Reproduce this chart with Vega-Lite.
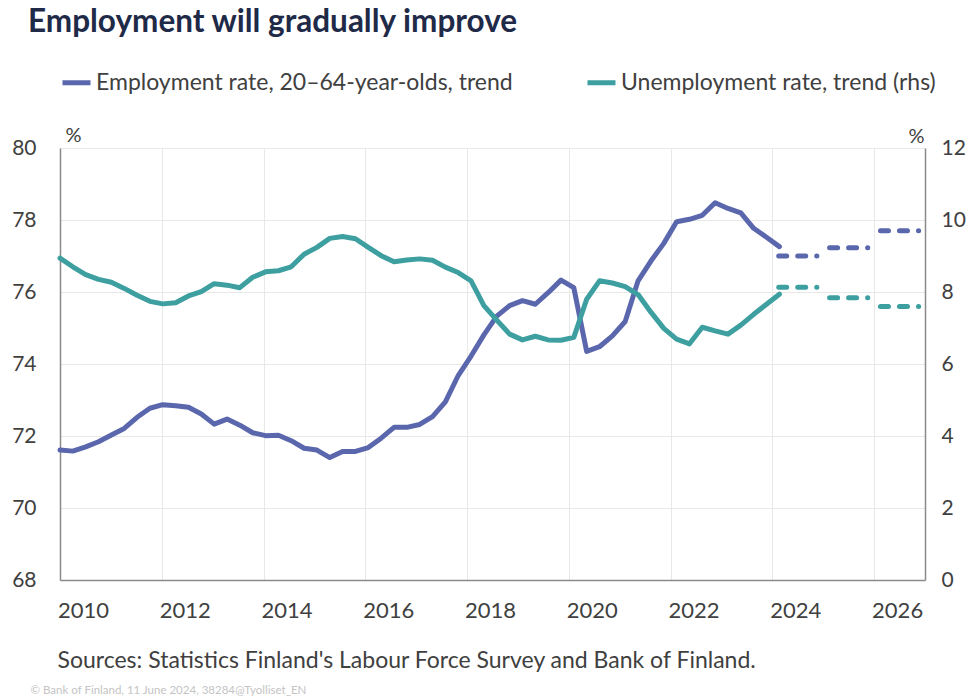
{
  "$schema": "https://vega.github.io/schema/vega-lite/v6.json",
  "width": 865,
  "height": 432,
  "autosize": "none",
  "padding": {"left": 60, "top": 148, "right": 53, "bottom": 117},
  "background": "white",
  "config": {
    "font": "Lato",
    "view": {"stroke": null},
    "axis": {"labelColor": "#404040", "titleColor": "#404040", "labelFont": "Lato", "titleFont": "Lato"},
    "legend": {"labelFont": "Lato"}
  },
  "title": {
    "text": "Employment will gradually improve",
    "anchor": "start",
    "frame": "group",
    "dx": -32,
    "offset": 28,
    "fontSize": 31.5,
    "fontWeight": "bold",
    "color": "#1F2A48",
    "font": "Lato"
  },
  "datasets": {
    "hist": [
      {"t": 2010.000, "emp": 71.61, "unemp": 8.94},
      {"t": 2010.252, "emp": 71.58, "unemp": 8.70},
      {"t": 2010.505, "emp": 71.70, "unemp": 8.48},
      {"t": 2010.757, "emp": 71.84, "unemp": 8.35},
      {"t": 2011.010, "emp": 72.03, "unemp": 8.27},
      {"t": 2011.262, "emp": 72.21, "unemp": 8.10},
      {"t": 2011.515, "emp": 72.52, "unemp": 7.91},
      {"t": 2011.767, "emp": 72.77, "unemp": 7.74},
      {"t": 2012.020, "emp": 72.87, "unemp": 7.67},
      {"t": 2012.272, "emp": 72.84, "unemp": 7.70},
      {"t": 2012.525, "emp": 72.80, "unemp": 7.89},
      {"t": 2012.777, "emp": 72.61, "unemp": 8.01},
      {"t": 2013.030, "emp": 72.33, "unemp": 8.23},
      {"t": 2013.282, "emp": 72.47, "unemp": 8.19},
      {"t": 2013.534, "emp": 72.30, "unemp": 8.12},
      {"t": 2013.787, "emp": 72.09, "unemp": 8.41},
      {"t": 2014.039, "emp": 72.01, "unemp": 8.56},
      {"t": 2014.292, "emp": 72.02, "unemp": 8.59},
      {"t": 2014.544, "emp": 71.87, "unemp": 8.70},
      {"t": 2014.797, "emp": 71.66, "unemp": 9.05},
      {"t": 2015.049, "emp": 71.61, "unemp": 9.24},
      {"t": 2015.302, "emp": 71.40, "unemp": 9.49},
      {"t": 2015.554, "emp": 71.57, "unemp": 9.54},
      {"t": 2015.807, "emp": 71.57, "unemp": 9.48},
      {"t": 2016.059, "emp": 71.68, "unemp": 9.24},
      {"t": 2016.312, "emp": 71.94, "unemp": 9.01},
      {"t": 2016.564, "emp": 72.24, "unemp": 8.84},
      {"t": 2016.816, "emp": 72.24, "unemp": 8.89},
      {"t": 2017.069, "emp": 72.32, "unemp": 8.92},
      {"t": 2017.321, "emp": 72.54, "unemp": 8.88},
      {"t": 2017.574, "emp": 72.95, "unemp": 8.69},
      {"t": 2017.826, "emp": 73.68, "unemp": 8.54},
      {"t": 2018.079, "emp": 74.22, "unemp": 8.31},
      {"t": 2018.331, "emp": 74.81, "unemp": 7.62},
      {"t": 2018.584, "emp": 75.33, "unemp": 7.22},
      {"t": 2018.836, "emp": 75.62, "unemp": 6.83},
      {"t": 2019.089, "emp": 75.76, "unemp": 6.67},
      {"t": 2019.341, "emp": 75.66, "unemp": 6.77},
      {"t": 2019.593, "emp": 75.98, "unemp": 6.67},
      {"t": 2019.846, "emp": 76.33, "unemp": 6.66},
      {"t": 2020.098, "emp": 76.12, "unemp": 6.74},
      {"t": 2020.351, "emp": 74.35, "unemp": 7.80},
      {"t": 2020.603, "emp": 74.48, "unemp": 8.31},
      {"t": 2020.856, "emp": 74.78, "unemp": 8.25},
      {"t": 2021.108, "emp": 75.18, "unemp": 8.15},
      {"t": 2021.361, "emp": 76.31, "unemp": 7.93},
      {"t": 2021.613, "emp": 76.86, "unemp": 7.44},
      {"t": 2021.866, "emp": 77.35, "unemp": 6.99},
      {"t": 2022.118, "emp": 77.95, "unemp": 6.69},
      {"t": 2022.371, "emp": 78.02, "unemp": 6.56},
      {"t": 2022.623, "emp": 78.13, "unemp": 7.02},
      {"t": 2022.875, "emp": 78.48, "unemp": 6.92},
      {"t": 2023.128, "emp": 78.32, "unemp": 6.83},
      {"t": 2023.380, "emp": 78.20, "unemp": 7.08},
      {"t": 2023.633, "emp": 77.77, "unemp": 7.38},
      {"t": 2023.885, "emp": 77.52, "unemp": 7.66},
      {"t": 2024.138, "emp": 77.26, "unemp": 7.94}
    ],
    "fc": [
      {"t": 2024.125, "emp": 77.0, "unemp": 8.13, "yr": 2024},
      {"t": 2024.875, "emp": 77.0, "unemp": 8.13, "yr": 2024},
      {"t": 2025.125, "emp": 77.23, "unemp": 7.84, "yr": 2025},
      {"t": 2025.875, "emp": 77.23, "unemp": 7.84, "yr": 2025},
      {"t": 2026.125, "emp": 77.7, "unemp": 7.6, "yr": 2026},
      {"t": 2026.875, "emp": 77.7, "unemp": 7.6, "yr": 2026}
    ]
  },
  "layer": [
    {
      "encoding": {
        "x": {
          "field": "t", "type": "quantitative",
          "scale": {"domain": [2010, 2027], "nice": false, "zero": false},
          "axis": {
            "values": [2010, 2012, 2014, 2016, 2018, 2020, 2022, 2024, 2026],
            "format": "d",
            "labelFontSize": 22,
            "labelOffset": 23,
            "labelPadding": 20,
            "labelFlush": false,
            "labelOverlap": false,
            "ticks": false,
            "grid": true,
            "gridColor": "#E8E8E8",
            "gridWidth": 1,
            "domainColor": "#8A8A8A",
            "domainWidth": 1.5,
            "title": "Sources: Statistics Finland's Labour Force Survey and Bank of Finland.",
            "titleFontSize": 23,
            "titleFontWeight": "normal",
            "titleAlign": "left",
            "titleAnchor": "start",
            "titleBaseline": "middle",
            "titleX": -3,
            "titleY": 80
          }
        },
        "y": {
          "type": "quantitative",
          "scale": {"domain": [68, 80], "nice": false, "zero": false},
          "axis": {
            "values": [68, 70, 72, 74, 76, 78, 80],
            "labelFontSize": 21,
            "labelPadding": 24,
            "ticks": false,
            "grid": true,
            "gridColor": "#E8E8E8",
            "domainColor": "#8A8A8A",
            "domainWidth": 1.5,
            "title": "%",
            "titleAngle": 0,
            "titleFontSize": 20,
            "titleFontWeight": "normal",
            "titleAlign": "left",
            "titleBaseline": "alphabetic",
            "titleX": 5,
            "titleY": -7
          }
        }
      },
      "layer": [
        {
          "data": {"name": "hist"},
          "mark": {"type": "line", "strokeWidth": 5, "strokeJoin": "round", "strokeCap": "round"},
          "encoding": {
            "y": {"field": "emp", "type": "quantitative"},
            "color": {
              "datum": "Employment rate, 20–64-year-olds, trend",
              "scale": {
                "domain": ["Employment rate, 20–64-year-olds, trend", "Unemployment rate, trend (rhs)"],
                "range": ["#5A67AD", "#3E9FA0"]
              },
              "legend": {
                "orient": "none",
                "legendX": 0,
                "legendY": -82,
                "direction": "horizontal",
                "columns": 2,
                "columnPadding": 64,
                "title": null,
                "padding": 0,
                "symbolType": "stroke",
                "symbolStrokeWidth": 5,
                "symbolSize": 784,
                "labelFontSize": 23,
                "labelColor": "#404040",
                "labelOffset": 3,
                "labelLimit": 1000
              }
            }
          }
        },
        {
          "data": {"name": "fc"},
          "mark": {"type": "line", "strokeWidth": 5, "strokeCap": "round", "strokeDash": [8, 11], "color": "#5A67AD"},
          "encoding": {
            "y": {"field": "emp", "type": "quantitative"},
            "detail": {"field": "yr", "type": "nominal"}
          }
        }
      ]
    },
    {
      "encoding": {
        "x": {
          "field": "t", "type": "quantitative",
          "axis": {
            "orient": "top",
            "labels": false,
            "ticks": false,
            "grid": false,
            "domain": false,
            "title": "© Bank of Finland, 11 June 2024, 38284@Tyolliset_EN",
            "titleFontSize": 11.5,
            "titleFontWeight": "normal",
            "titleColor": "#C4C4C4",
            "titleAlign": "left",
            "titleAnchor": "start",
            "titleBaseline": "middle",
            "titleX": -30,
            "titleY": 542
          }
        },
        "y": {
          "type": "quantitative",
          "scale": {"domain": [0, 12], "nice": false, "zero": true},
          "axis": {
            "orient": "right",
            "values": [0, 2, 4, 6, 8, 10, 12],
            "labelFontSize": 21,
            "labelPadding": 16,
            "ticks": false,
            "grid": false,
            "domainColor": "#8A8A8A",
            "domainWidth": 1.5,
            "title": "%",
            "titleAngle": 0,
            "titleFontSize": 20,
            "titleFontWeight": "normal",
            "titleAlign": "left",
            "titleBaseline": "alphabetic",
            "titleX": -17,
            "titleY": -6
          }
        }
      },
      "layer": [
        {
          "data": {"name": "hist"},
          "mark": {"type": "line", "strokeWidth": 5, "strokeJoin": "round", "strokeCap": "round"},
          "encoding": {
            "y": {"field": "unemp", "type": "quantitative"},
            "color": {"datum": "Unemployment rate, trend (rhs)"}
          }
        },
        {
          "data": {"name": "fc"},
          "mark": {"type": "line", "strokeWidth": 5, "strokeCap": "round", "strokeDash": [8, 11], "color": "#3E9FA0"},
          "encoding": {
            "y": {"field": "unemp", "type": "quantitative"},
            "detail": {"field": "yr", "type": "nominal"}
          }
        }
      ]
    }
  ],
  "resolve": {"scale": {"y": "independent"}, "axis": {"x": "independent"}}
}
